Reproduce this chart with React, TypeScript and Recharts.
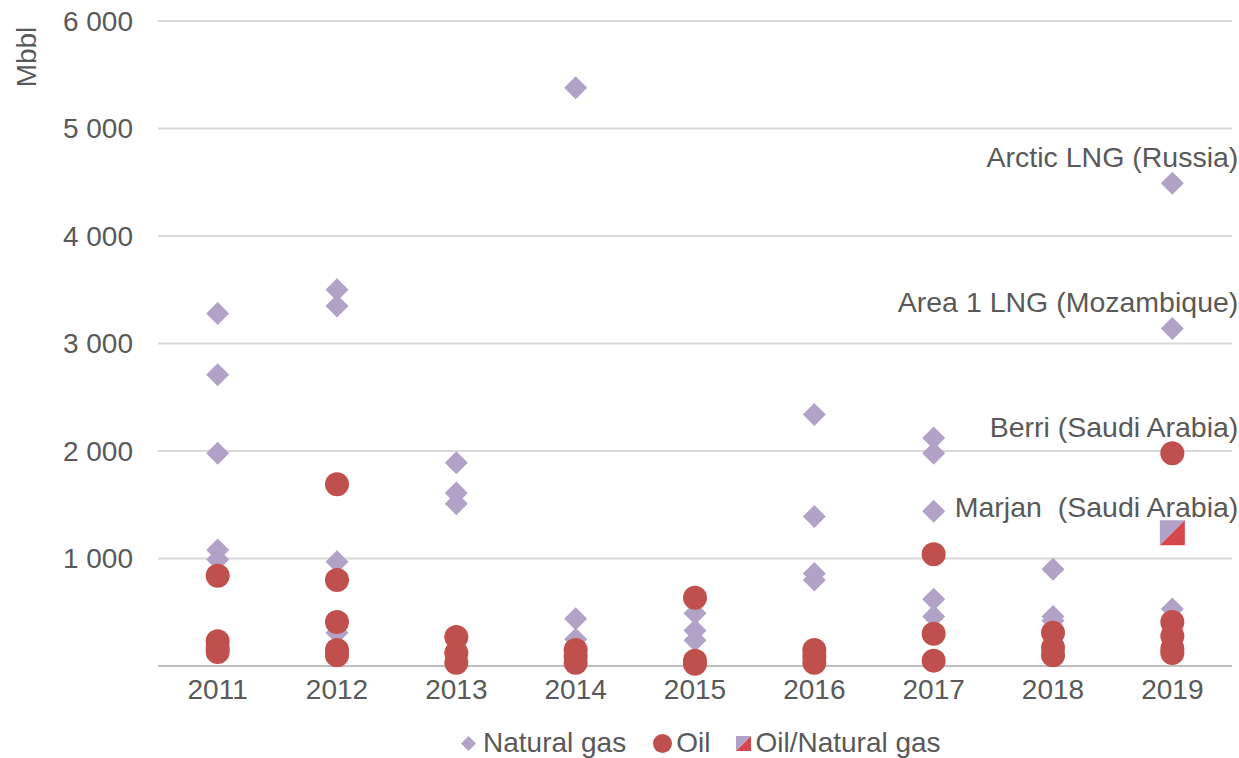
import React from 'react';
import { ScatterChart, Scatter, XAxis, YAxis, CartesianGrid } from 'recharts';

const years = [2011, 2012, 2013, 2014, 2015, 2016, 2017, 2018, 2019];

// one list of project sizes (Mbbl) per year
const naturalGas: number[][] = [
  [3280, 2710, 1980, 1080, 990],
  [3500, 3350, 970, 310],
  [1890, 1610, 1510],
  [5380, 440, 250],
  [490, 330, 240],
  [2340, 1390, 860, 800],
  [2120, 1980, 1440, 620, 460],
  [900, 460, 420],
  [4490, 3140, 530],
];

const oil: number[][] = [
  [840, 230, 170, 130],
  [1690, 800, 410, 150, 100],
  [270, 120, 30],
  [150, 90, 30],
  [635, 50, 20],
  [150, 90, 30],
  [1040, 300, 50],
  [310, 170, 100],
  [1980, 410, 280, 160, 120],
];

const oilAndGas: number[][] = [[], [], [], [], [], [], [], [], [1240]];

const yTicks = [1000, 2000, 3000, 4000, 5000, 6000];

// annotated projects (all 2019)
const projectNames = ['Arctic LNG (Russia)', 'Area 1 LNG (Mozambique)', 'Berri (Saudi Arabia)', 'Marjan  (Saudi Arabia)'];
const projectSeries = ['gas', 'gas', 'oil', 'mixed'];
const projectValues = [4490, 3140, 1980, 1240];
const projectYear = 2019;

const GAS = '#B3A2C7';
const OIL = '#C0504D';
const MIXED_RED = '#D6474C';
const TEXT = '#595959';
const FONT = '"Liberation Sans", Arial, sans-serif';

const toPoints = (series: number[][], key: string) =>
  years.flatMap((year, i) =>
    series[i].map(v => {
      const idx = projectValues.findIndex((pv, j) => pv === v && projectSeries[j] === key && year === projectYear);
      return { year, value: v, name: idx >= 0 ? projectNames[idx] : '' };
    })
  );

const gasData = toPoints(naturalGas, 'gas');
const oilData = toPoints(oil, 'oil');
const mixedData = toPoints(oilAndGas, 'mixed');

const fmt = (v: number) => String(v).replace(/\B(?=(\d{3})+(?!\d))/g, ' ');

const ProjectLabel = ({ cx, cy, name }: { cx: number; cy: number; name: string }) =>
  name ? (
    <text x={cx + 66} y={cy - 16} textAnchor="end" fontSize={28.5} fill={TEXT} fontFamily={FONT} style={{ whiteSpace: 'pre' }}>
      {name}
    </text>
  ) : null;

const Diamond = (props: any) => {
  const { cx, cy, payload } = props;
  const r = 11.5;
  return (
    <g>
      <path d={`M${cx},${cy - r}L${cx + r},${cy}L${cx},${cy + r}L${cx - r},${cy}Z`} fill={GAS} />
      <ProjectLabel cx={cx} cy={cy} name={payload?.name} />
    </g>
  );
};

const Dot = (props: any) => {
  const { cx, cy, payload } = props;
  return (
    <g>
      <circle cx={cx} cy={cy} r={12} fill={OIL} />
      <ProjectLabel cx={cx} cy={cy} name={payload?.name} />
    </g>
  );
};

const SplitSquare = (props: any) => {
  const { cx, cy, payload } = props;
  const h = 12.5;
  return (
    <g>
      <path d={`M${cx - h},${cy - h}L${cx + h},${cy - h}L${cx - h},${cy + h}Z`} fill={GAS} />
      <path d={`M${cx + h},${cy - h}L${cx + h},${cy + h}L${cx - h},${cy + h}Z`} fill={MIXED_RED} />
      <ProjectLabel cx={cx} cy={cy} name={payload?.name} />
    </g>
  );
};

const MbblLabel = () => (
  <text x={26} y={57} transform="rotate(-90, 26, 57)" textAnchor="middle" dominantBaseline="central" fontSize={28} fill={TEXT} fontFamily={FONT}>
    Mbbl
  </text>
);

const legendItem = { display: 'flex', alignItems: 'center' } as const;

const App: React.FC = () => {
  return (
    <div style={{ position: 'absolute', left: 0, top: 0, width: 1239, height: 758, background: '#fff', fontFamily: FONT }}>
      <ScatterChart width={1239} height={758} margin={{ top: 21, right: 7, left: 0, bottom: 0 }}>
        <CartesianGrid vertical={false} stroke="#d9d9d9" strokeWidth={2} />
        <XAxis
          type="number"
          dataKey="year"
          domain={[2010.5, 2019.5]}
          ticks={years}
          interval={0}
          height={92}
          tickLine={false}
          tickSize={0}
          tickMargin={13}
          axisLine={{ stroke: '#bfbfbf', strokeWidth: 2 }}
          tick={{ fontSize: 28, fill: TEXT, fontFamily: FONT }}
        />
        <YAxis
          type="number"
          dataKey="value"
          domain={[0, 6000]}
          ticks={yTicks}
          width={158}
          axisLine={false}
          tickLine={false}
          tickSize={0}
          tickMargin={25}
          tickFormatter={fmt}
          tick={{ fontSize: 28, fill: TEXT, fontFamily: FONT }}
          label={<MbblLabel />}
        />
        <Scatter name="Natural gas" data={gasData} shape={Diamond} isAnimationActive={false} />
        <Scatter name="Oil" data={oilData} shape={Dot} isAnimationActive={false} />
        <Scatter name="Oil/Natural gas" data={mixedData} shape={SplitSquare} isAnimationActive={false} />
      </ScatterChart>
      <div style={{ position: 'absolute', left: 461, top: 725, display: 'flex', alignItems: 'center', fontSize: 28, color: TEXT, lineHeight: '36px' }}>
        <div style={legendItem}>
          <svg width={15} height={15} style={{ marginRight: 7 }}>
            <path d="M7.5,0L15,7.5L7.5,15L0,7.5Z" fill={GAS} />
          </svg>
          <span>Natural gas</span>
        </div>
        <div style={{ ...legendItem, marginLeft: 27 }}>
          <svg width={19} height={19} style={{ marginRight: 4 }}>
            <circle cx={9.5} cy={9.5} r={9.5} fill={OIL} />
          </svg>
          <span>Oil</span>
        </div>
        <div style={{ ...legendItem, marginLeft: 26 }}>
          <svg width={15} height={15} style={{ marginRight: 4 }}>
            <path d="M0,0L15,0L0,15Z" fill={GAS} />
            <path d="M15,0L15,15L0,15Z" fill={MIXED_RED} />
          </svg>
          <span>Oil/Natural gas</span>
        </div>
      </div>
    </div>
  );
};

export default App;
